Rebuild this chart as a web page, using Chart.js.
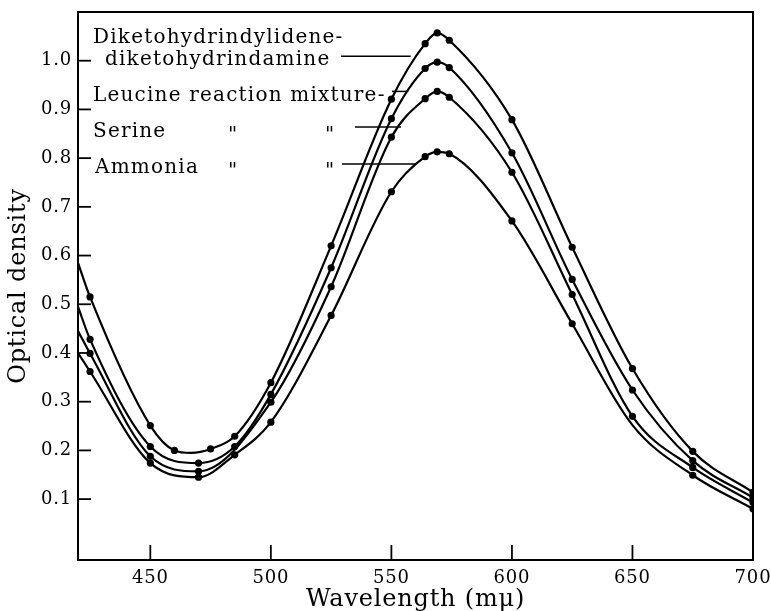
<!DOCTYPE html>
<html>
<head>
<meta charset="utf-8">
<script src="https://cdn.jsdelivr.net/npm/chart.js@4.4.1/dist/chart.umd.min.js"></script>
<style>
  html, body { margin: 0; padding: 0; background: #fff; }
  #c { display: block; }
</style>
</head>
<body>
<canvas id="c" width="771" height="611"></canvas>
<script>
'use strict';

// ── DATA ───────────────────────────────────────────────────
const X_TICKS = [450, 500, 550, 600, 650, 700];
const Y_TICKS = [0.1, 0.2, 0.3, 0.4, 0.5, 0.6, 0.7, 0.8, 0.9, 1.0];

// Diketohydrindylidene-diketohydrindamine
const WL_DKH = [420, 425, 450, 460, 467, 475, 485, 500, 525, 550, 564, 569, 574, 600, 625, 650, 675, 700];
const OD_DKH = [0.585, 0.515, 0.251, 0.200, 0.195, 0.203, 0.229, 0.339, 0.620, 0.921, 1.035, 1.057, 1.042, 0.879, 0.617, 0.368, 0.198, 0.114];
const BARE_DKH = [420, 467];

// Leucine reaction mixture
const WL_LEU = [420, 425, 450, 470, 485, 500, 525, 550, 564, 569, 574, 600, 625, 650, 675, 700];
const OD_LEU = [0.495, 0.428, 0.208, 0.174, 0.208, 0.315, 0.575, 0.881, 0.984, 0.997, 0.986, 0.811, 0.551, 0.324, 0.179, 0.103];
const BARE_LEU = [420];

// Serine reaction mixture
const WL_SER = [420, 425, 450, 470, 500, 525, 550, 564, 569, 574, 600, 625, 650, 675, 700];
const OD_SER = [0.445, 0.399, 0.188, 0.157, 0.299, 0.536, 0.843, 0.922, 0.937, 0.925, 0.771, 0.520, 0.270, 0.165, 0.093];
const BARE_SER = [420];

// Ammonia reaction mixture
const WL_AMM = [420, 425, 450, 470, 485, 500, 525, 550, 564, 569, 574, 600, 625, 650, 675, 700];
const OD_AMM = [0.400, 0.362, 0.174, 0.145, 0.191, 0.258, 0.477, 0.731, 0.803, 0.813, 0.809, 0.671, 0.460, 0.252, 0.149, 0.080];
const BARE_AMM = [420, 650];

// labels written inside the plot, with leader lines ending on their curve
const LABEL_ROWS = ['Diketohydrindylidene-', 'diketohydrindamine', 'Leucine reaction mixture-', 'Serine', 'Ammonia'];
const LEADER_NM = [558, 557, 554, 560];
const LEADER_OD = [1.009, 0.937, 0.864, 0.788];

// ── HELPERS ────────────────────────────────────────────────
const FONT = '"DejaVu Serif", "Liberation Serif", serif';

function curve(wl, od, bare) {
  return {
    data: wl.map((w, i) => ({ x: w, y: od[i] })),
    borderColor: '#000',
    borderWidth: 2.2,
    backgroundColor: '#000',
    pointBackgroundColor: '#000',
    pointBorderWidth: 0,
    pointRadius: wl.map(w => bare.includes(w) ? 0 : 3.6),
    cubicInterpolationMode: 'monotone',
    fill: false
  };
}

function noPad(s) {
  s.paddingLeft = 0; s.paddingRight = 0; s.paddingTop = 0; s.paddingBottom = 0;
}

// frame, inward ticks, in-plot lettering
const figurePlugin = {
  id: 'figure',
  beforeLayout(chart) { chart.ctx.letterSpacing = '0.8px'; },
  beforeDraw(chart) { chart.ctx.letterSpacing = '0.8px'; },
  afterDraw(chart) {
    const { ctx, chartArea: a } = chart;
    const sx = chart.scales.x, sy = chart.scales.y;
    ctx.save();
    ctx.strokeStyle = '#000';
    ctx.fillStyle = '#000';

    ctx.lineWidth = 2;
    ctx.strokeRect(a.left, a.top, a.right - a.left, a.bottom - a.top);

    ctx.lineWidth = 1.8;
    X_TICKS.forEach(v => {
      const px = sx.getPixelForValue(v);
      ctx.beginPath(); ctx.moveTo(px, a.bottom); ctx.lineTo(px, a.bottom - 15); ctx.stroke();
    });
    Y_TICKS.forEach(v => {
      const py = sy.getPixelForValue(v);
      ctx.beginPath(); ctx.moveTo(a.left, py); ctx.lineTo(a.left + 13, py); ctx.stroke();
    });

    // lettering
    ctx.letterSpacing = '1.2px';
    ctx.font = '20px ' + FONT;
    ctx.textBaseline = 'alphabetic';
    ctx.textAlign = 'left';
    ctx.fillText(LABEL_ROWS[0], 93, 43);
    ctx.fillText(LABEL_ROWS[1], 105, 65);
    ctx.fillText(LABEL_ROWS[2], 93, 101);
    ctx.fillText(LABEL_ROWS[3], 93, 137);
    ctx.fillText(LABEL_ROWS[4], 95, 173);
    // ditto marks
    [137, 173].forEach(base => {
      ctx.fillText('"', 228, base + 4);
      ctx.fillText('"', 325, base + 4);
    });

    // leader lines
    ctx.lineWidth = 1.5;
    const starts = [341, 392, 355, 342];
    LEADER_NM.forEach((nm, i) => {
      const py = sy.getPixelForValue(LEADER_OD[i]);
      ctx.beginPath();
      ctx.moveTo(starts[i], py);
      ctx.lineTo(sx.getPixelForValue(nm), py);
      ctx.stroke();
    });
    ctx.restore();
  }
};

// ── CHART ──────────────────────────────────────────────────
const chart = new Chart(document.getElementById('c'), {
  type: 'line',
  data: {
    datasets: [
      curve(WL_DKH, OD_DKH, BARE_DKH),
      curve(WL_LEU, OD_LEU, BARE_LEU),
      curve(WL_SER, OD_SER, BARE_SER),
      curve(WL_AMM, OD_AMM, BARE_AMM)
    ]
  },
  options: {
    responsive: false,
    animation: false,
    devicePixelRatio: 1,
    layout: { padding: { top: 12, right: 18, left: 0, bottom: 0 } },
    plugins: { legend: { display: false }, tooltip: { enabled: false } },
    scales: {
      x: {
        type: 'linear',
        min: 420, max: 700,
        afterBuildTicks: s => { s.ticks = X_TICKS.map(v => ({ value: v })); },
        afterFit: s => { s.height = 51; noPad(s); },
        grid: { display: false, drawTicks: false },
        border: { display: false },
        ticks: { color: '#000', padding: 8, maxRotation: 0, font: { family: FONT, size: 18 } },
        title: {
          display: true, text: 'Wavelength (m\u03bc)', color: '#000',
          font: { family: FONT, size: 24, lineHeight: 1 }, padding: { top: 0, bottom: -1 }
        }
      },
      y: {
        min: -0.025, max: 1.1,
        afterBuildTicks: s => { s.ticks = Y_TICKS.map(v => ({ value: v })); },
        afterFit: s => { s.width = 78; noPad(s); },
        grid: { display: false, drawTicks: false },
        border: { display: false },
        ticks: { color: '#000', padding: 6, font: { family: FONT, size: 18 }, callback: v => v.toFixed(1) },
        title: {
          display: true, text: 'Optical density', color: '#000',
          font: { family: FONT, size: 24, lineHeight: 1 }, padding: { top: 7, bottom: 0 }
        }
      }
    }
  },
  plugins: [figurePlugin]
});
</script>
</body>
</html>
